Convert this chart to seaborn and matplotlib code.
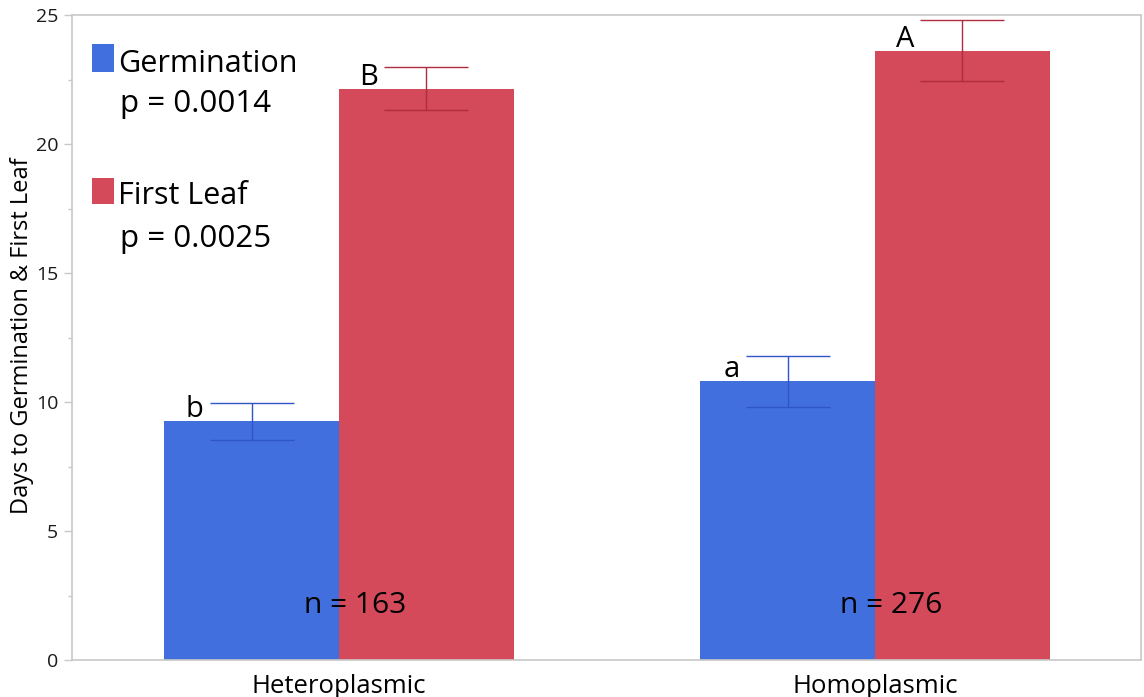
import matplotlib
matplotlib.use("Agg")
import matplotlib.pyplot as plt
from matplotlib.patches import Rectangle
from matplotlib.ticker import MultipleLocator
import seaborn as sns
import pandas as pd

# Mean days to event, by plasmic type
groups = ["Heteroplasmic", "Homoplasmic"]
measures = ["Germination", "First Leaf"]
germination_mean = [9.25, 10.8]
germination_err = [0.72, 1.0]
first_leaf_mean = [22.15, 23.62]
first_leaf_err = [0.85, 1.17]
germ_letters = ["b", "a"]
leaf_letters = ["B", "A"]
sample_sizes = [163, 276]
p_values = ["0.0014", "0.0025"]

blue = "#4170de"
red = "#d44a5a"
blue_dark = "#2f55c6"
red_dark = "#b02c40"

sns.set_theme(style="white")
plt.rcParams["font.family"] = ["Open Sans", "DejaVu Sans"]

df = pd.DataFrame({
    "group": groups * 2,
    "measure": [measures[0]] * 2 + [measures[1]] * 2,
    "days": germination_mean + first_leaf_mean,
})

fig = plt.figure(figsize=(11.44, 6.97), dpi=100)
ax = fig.add_axes([72 / 1144, 1 - 660 / 697, (1141 - 72) / 1144, (660 - 15) / 697])

sns.barplot(data=df, x="group", y="days", hue="measure", order=groups,
            hue_order=measures, palette=[blue, red], width=0.652,
            errorbar=None, saturation=1, ax=ax, legend=False, linewidth=0)

bars = ax.patches
means = germination_mean + first_leaf_mean
errs = germination_err + first_leaf_err
ecolors = [blue_dark, blue_dark, red_dark, red_dark]
letters = germ_letters + leaf_letters
cap_half = 0.078  # half cap width in axis units
for bar, m, e, c, lab in zip(bars, means, errs, ecolors, letters):
    cx = bar.get_x() + bar.get_width() / 2
    ax.errorbar(cx, m, yerr=e, fmt="none", ecolor=c, elinewidth=1.0,
                capsize=30, capthick=1.0, zorder=3)
    ax.text(cx - cap_half - 0.012, m + 0.15, lab,
            fontsize=21, ha="right", va="baseline", color="black")

for i, n in enumerate(sample_sizes):
    ax.text(i + 0.03, 2.1, f"n = {n}", fontsize=21.5, ha="center",
            va="center", color="black")

ax.set_xlim(-0.498, 1.496)
ax.set_ylim(0, 25)
ax.yaxis.set_major_locator(MultipleLocator(5))
ax.yaxis.set_minor_locator(MultipleLocator(2.5))
ax.tick_params(axis="y", which="major", left=True, length=6, width=1,
               color="#c8c8c8", labelsize=14, labelcolor="#1a1a1a", pad=4)
ax.tick_params(axis="y", which="minor", left=True, length=3, width=1,
               color="#c8c8c8")
ax.tick_params(axis="x", bottom=False, labelsize=18.5, labelcolor="black", pad=4)
ax.set_xlabel("")
ax.set_ylabel("Days to Germination & First Leaf", fontsize=17, color="black")
ax.yaxis.set_label_coords(-0.036, 0.502)
for s in ax.spines.values():
    s.set_visible(True)
    s.set_color("#c8c8c8")
    s.set_linewidth(1.2)

# Legend blocks with significance values
legend_items = [(blue, measures[0], p_values[0], 22.79, 23.88, 21.24),
                (red, measures[1], p_values[1], 17.67, 18.68, 16.0)]
for color, name, p, base, top, pbase in legend_items:
    ax.add_patch(Rectangle((-0.4607, base), 0.041, top - base, facecolor=color,
                           edgecolor="none", transform=ax.transData,
                           clip_on=False))
    ax.text(-0.412, base, name, fontsize=22, ha="left", va="baseline",
            color="black")
    ax.text(-0.4085, pbase, f"p = {p}", fontsize=22.5, ha="left",
            va="baseline", color="black")

fig.savefig("out.png", dpi=100)
